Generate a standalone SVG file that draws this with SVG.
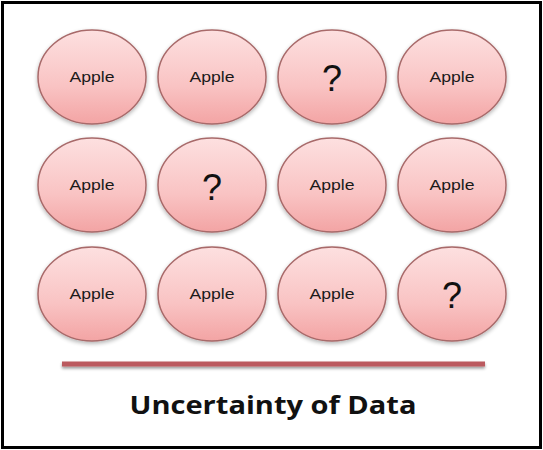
<svg xmlns="http://www.w3.org/2000/svg" width="543" height="450" viewBox="0 0 543 450">
<defs>
<linearGradient id="g" x1="0" y1="0" x2="0" y2="1">
<stop offset="0" stop-color="#fde0e0"/>
<stop offset="0.6" stop-color="#f9c3c3"/>
<stop offset="1" stop-color="#f3a4a4"/>
</linearGradient>
<filter id="sh" x="-20%" y="-20%" width="140%" height="150%">
<feGaussianBlur in="SourceAlpha" stdDeviation="2"/>
<feOffset dx="0" dy="2" result="b"/>
<feComponentTransfer><feFuncA type="linear" slope="0.3"/></feComponentTransfer>
<feMerge><feMergeNode/><feMergeNode in="SourceGraphic"/></feMerge>
</filter>
<filter id="lsh" x="-5%" y="-100%" width="110%" height="400%">
<feGaussianBlur in="SourceAlpha" stdDeviation="1.5"/>
<feOffset dx="0" dy="2"/>
<feComponentTransfer><feFuncA type="linear" slope="0.4"/></feComponentTransfer>
<feMerge><feMergeNode/><feMergeNode in="SourceGraphic"/></feMerge>
</filter>
</defs>
<style>
.n ellipse{fill:url(#g);stroke:#a86a6a;stroke-width:1.5;filter:url(#sh)}
.a{font-family:"Liberation Sans",Arial,sans-serif;font-size:15px;fill:#1a1a1a;text-anchor:middle}
.q{font-family:"Liberation Sans",Arial,sans-serif;font-size:36px;fill:#111;text-anchor:middle}
</style>
<rect x="2.5" y="2.5" width="538" height="445" fill="#fff" stroke="#000" stroke-width="3"/>
<g id="r1c1" class="n"><ellipse cx="92" cy="77" rx="54" ry="47"/><text class="a" x="92" y="82" textLength="45" lengthAdjust="spacingAndGlyphs">Apple</text></g>
<g id="r1c2" class="n"><ellipse cx="212" cy="77" rx="54" ry="47"/><text class="a" x="212" y="82" textLength="45" lengthAdjust="spacingAndGlyphs">Apple</text></g>
<g id="r1c3" class="n"><ellipse cx="332" cy="77" rx="54" ry="47"/><text class="q" x="332" y="91">?</text></g>
<g id="r1c4" class="n"><ellipse cx="452" cy="77" rx="54" ry="47"/><text class="a" x="452" y="82" textLength="45" lengthAdjust="spacingAndGlyphs">Apple</text></g>
<g id="r2c1" class="n"><ellipse cx="92" cy="185" rx="54" ry="47"/><text class="a" x="92" y="190" textLength="45" lengthAdjust="spacingAndGlyphs">Apple</text></g>
<g id="r2c2" class="n"><ellipse cx="212" cy="185" rx="54" ry="47"/><text class="q" x="212" y="200">?</text></g>
<g id="r2c3" class="n"><ellipse cx="332" cy="185" rx="54" ry="47"/><text class="a" x="332" y="190" textLength="45" lengthAdjust="spacingAndGlyphs">Apple</text></g>
<g id="r2c4" class="n"><ellipse cx="452" cy="185" rx="54" ry="47"/><text class="a" x="452" y="190" textLength="45" lengthAdjust="spacingAndGlyphs">Apple</text></g>
<g id="r3c1" class="n"><ellipse cx="92" cy="294" rx="54" ry="47"/><text class="a" x="92" y="299" textLength="45" lengthAdjust="spacingAndGlyphs">Apple</text></g>
<g id="r3c2" class="n"><ellipse cx="212" cy="294" rx="54" ry="47"/><text class="a" x="212" y="299" textLength="45" lengthAdjust="spacingAndGlyphs">Apple</text></g>
<g id="r3c3" class="n"><ellipse cx="332" cy="294" rx="54" ry="47"/><text class="a" x="332" y="299" textLength="45" lengthAdjust="spacingAndGlyphs">Apple</text></g>
<g id="r3c4" class="n"><ellipse cx="452" cy="294" rx="54" ry="47"/><text class="q" x="452" y="308">?</text></g>
<g id="connectors"></g>
<rect x="62" y="361.5" width="423" height="5" fill="#bb5a5e" filter="url(#lsh)"/>
<text x="273" y="414" font-family="Open Sans,Liberation Sans,sans-serif" font-weight="bold" font-size="25" fill="#111" text-anchor="middle" textLength="287" lengthAdjust="spacingAndGlyphs">Uncertainty of Data</text>
</svg>
